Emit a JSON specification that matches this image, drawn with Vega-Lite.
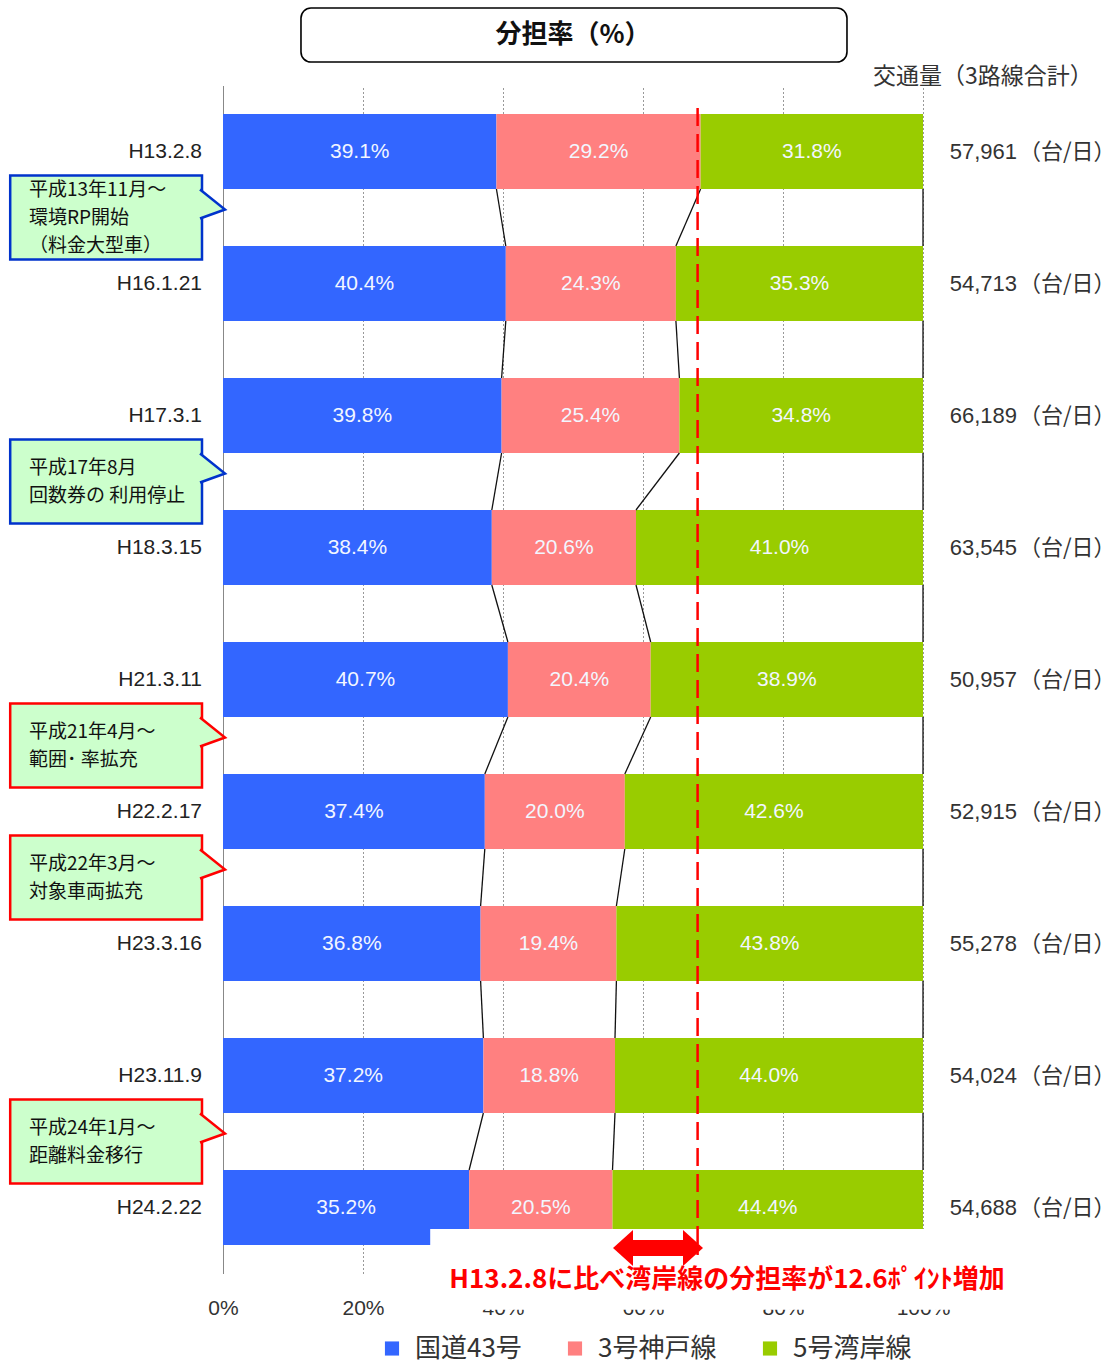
{
  "$schema": "https://vega.github.io/schema/vega-lite/v6.json",
  "autosize": {"type": "none"},
  "padding": {"left": 223, "top": 85.5, "right": 194, "bottom": 95.5},
  "width": 700,
  "height": 1188,
  "background": "white",
  "config": {
    "view": {"stroke": null},
    "font": "Noto Sans CJK JP",
    "axis": {"zindex": 0}
  },
  "datasets": {
    "shares": [
      {"row": 0, "road": "国道43号", "k": 1, "share": 0.391},
      {"row": 0, "road": "3号神戸線", "k": 2, "share": 0.292},
      {"row": 0, "road": "5号湾岸線", "k": 3, "share": 0.318},
      {"row": 1, "road": "国道43号", "k": 1, "share": 0.404},
      {"row": 1, "road": "3号神戸線", "k": 2, "share": 0.243},
      {"row": 1, "road": "5号湾岸線", "k": 3, "share": 0.353},
      {"row": 2, "road": "国道43号", "k": 1, "share": 0.398},
      {"row": 2, "road": "3号神戸線", "k": 2, "share": 0.254},
      {"row": 2, "road": "5号湾岸線", "k": 3, "share": 0.348},
      {"row": 3, "road": "国道43号", "k": 1, "share": 0.384},
      {"row": 3, "road": "3号神戸線", "k": 2, "share": 0.206},
      {"row": 3, "road": "5号湾岸線", "k": 3, "share": 0.410},
      {"row": 4, "road": "国道43号", "k": 1, "share": 0.407},
      {"row": 4, "road": "3号神戸線", "k": 2, "share": 0.204},
      {"row": 4, "road": "5号湾岸線", "k": 3, "share": 0.389},
      {"row": 5, "road": "国道43号", "k": 1, "share": 0.374},
      {"row": 5, "road": "3号神戸線", "k": 2, "share": 0.200},
      {"row": 5, "road": "5号湾岸線", "k": 3, "share": 0.426},
      {"row": 6, "road": "国道43号", "k": 1, "share": 0.368},
      {"row": 6, "road": "3号神戸線", "k": 2, "share": 0.194},
      {"row": 6, "road": "5号湾岸線", "k": 3, "share": 0.438},
      {"row": 7, "road": "国道43号", "k": 1, "share": 0.372},
      {"row": 7, "road": "3号神戸線", "k": 2, "share": 0.188},
      {"row": 7, "road": "5号湾岸線", "k": 3, "share": 0.440},
      {"row": 8, "road": "国道43号", "k": 1, "share": 0.352},
      {"row": 8, "road": "3号神戸線", "k": 2, "share": 0.205},
      {"row": 8, "road": "5号湾岸線", "k": 3, "share": 0.444}
    ],
    "volumes": [
      {"row": 0, "date": "H13.2.8", "volume": 57961},
      {"row": 1, "date": "H16.1.21", "volume": 54713},
      {"row": 2, "date": "H17.3.1", "volume": 66189},
      {"row": 3, "date": "H18.3.15", "volume": 63545},
      {"row": 4, "date": "H21.3.11", "volume": 50957},
      {"row": 5, "date": "H22.2.17", "volume": 52915},
      {"row": 6, "date": "H23.3.16", "volume": 55278},
      {"row": 7, "date": "H23.11.9", "volume": 54024},
      {"row": 8, "date": "H24.2.22", "volume": 54688}
    ],
    "callouts": [
      {"gap": 0.5, "type": "A", "lines": 3, "text": "平成13年11月～\n環境RP開始\n（料金大型車）"},
      {"gap": 2.5, "type": "A", "lines": 2, "text": "平成17年8月\n回数券の 利用停止"},
      {"gap": 4.5, "type": "B", "lines": 2, "text": "平成21年4月～\n範囲･ 率拡充"},
      {"gap": 5.5, "type": "B", "lines": 2, "text": "平成22年3月～\n対象車両拡充"},
      {"gap": 7.5, "type": "B", "lines": 2, "text": "平成24年1月～\n距離料金移行"}
    ]
  },
  "layer": [
    {
      "data": {"name": "shares"},
      "transform": [
        {"stack": "share", "groupby": ["row"], "sort": [{"field": "k", "order": "ascending"}], "offset": "normalize", "as": ["x0", "x1"]}
      ],
      "mark": {"type": "bar", "size": 75, "orient": "horizontal"},
      "encoding": {
        "x": {"field": "x0", "type": "quantitative", "scale": {"domain": [0, 1], "nice": false, "zero": false, "padding": 0},
          "axis": {"values": [0, 0.2, 0.4, 0.6, 0.8, 1], "format": ".0%", "title": null, "domain": false, "ticks": false,
            "labelFont": "Liberation Sans", "labelFontSize": 21, "labelColor": "#333", "labelPadding": 24, "labelFlush": false,
            "grid": true, "gridDash": [2, 2], "gridColor": "#999", "gridWidth": 1}},
        "x2": {"field": "x1"},
        "y": {"field": "row", "type": "quantitative", "scale": {"domain": [-0.5, 8.5], "reverse": true, "nice": false, "zero": false, "padding": 0},
          "axis": {"title": null, "labels": false, "ticks": false, "grid": false, "domain": true, "domainColor": "#888", "domainWidth": 1}},
        "color": {"field": "road", "type": "nominal",
          "scale": {"domain": ["国道43号", "3号神戸線", "5号湾岸線"], "range": ["#3366FF", "#FF8080", "#99CC00"]},
          "legend": {"title": null, "orient": "none", "legendX": 156, "legendY": 1250, "direction": "horizontal",
            "symbolType": "square", "symbolSize": 200, "symbolStrokeWidth": 0, "labelFontSize": 26,
            "labelFont": "Noto Sans CJK JP", "labelColor": "#333", "columnPadding": 40, "labelOffset": 10, "padding": 0}}
      }
    },
    {
      "data": {"name": "shares"},
      "transform": [
        {"stack": "share", "groupby": ["row"], "sort": [{"field": "k", "order": "ascending"}], "offset": "normalize", "as": ["x0", "x1"]},
        {"window": [{"op": "lead", "field": "x1", "as": "nx1"}, {"op": "lead", "field": "row", "as": "nrow"}],
          "groupby": ["road"], "sort": [{"field": "row", "order": "ascending"}]},
        {"filter": "datum.nrow != null"}
      ],
      "mark": {"type": "rule", "color": "#111", "strokeWidth": 1.3, "yOffset": 37.5, "y2Offset": -37.5},
      "encoding": {
        "x": {"field": "x1", "type": "quantitative"},
        "x2": {"field": "nx1"},
        "y": {"field": "row", "type": "quantitative"},
        "y2": {"field": "nrow"}
      }
    },
    {
      "data": {"name": "shares"},
      "transform": [
        {"stack": "share", "groupby": ["row"], "sort": [{"field": "k", "order": "ascending"}], "offset": "normalize", "as": ["x0", "x1"]},
        {"fold": ["x0", "x1"], "as": ["edge", "pos"]},
        {"aggregate": [{"op": "mean", "field": "pos", "as": "xm"}], "groupby": ["row", "road", "share"]}
      ],
      "mark": {"type": "text", "font": "Liberation Sans", "fontSize": 21, "color": "#F2F6FF", "baseline": "middle", "align": "center"},
      "encoding": {
        "x": {"field": "xm", "type": "quantitative"},
        "y": {"field": "row", "type": "quantitative"},
        "text": {"field": "share", "type": "quantitative", "format": ".1%"}
      }
    },
    {
      "data": {"values": [{}]},
      "mark": {"type": "rect", "fill": "white"},
      "encoding": {
        "x": {"datum": 0.296}, "x2": {"datum": 1.3},
        "y": {"datum": 8.163}, "y2": {"datum": 8.775}
      }
    },
    {
      "data": {"values": [{}]},
      "mark": {"type": "rule", "color": "#FF0000", "strokeWidth": 2.5, "strokeDash": [18, 8]},
      "encoding": {
        "x": {"datum": 0.678},
        "y": {"datum": -0.33}, "y2": {"datum": 8.36}
      }
    },
    {
      "data": {"values": [{}]},
      "mark": {"type": "rule", "color": "#FF0000", "strokeWidth": 16, "strokeCap": "butt"},
      "encoding": {
        "x": {"datum": 0.58}, "x2": {"datum": 0.664},
        "y": {"datum": 8.307}
      }
    },
    {
      "data": {"values": [{}]},
      "mark": {"type": "point", "filled": true, "fill": "#FF0000", "opacity": 1, "strokeWidth": 0, "size": 1296, "shape": "M-1,0L0.11,-1L0.11,1Z"},
      "encoding": {"x": {"datum": 0.5829}, "y": {"datum": 8.307}}
    },
    {
      "data": {"values": [{}]},
      "mark": {"type": "point", "filled": true, "fill": "#FF0000", "opacity": 1, "strokeWidth": 0, "size": 1296, "shape": "M1,0L-0.11,-1L-0.11,1Z"},
      "encoding": {"x": {"datum": 0.66}, "y": {"datum": 8.307}}
    },
    {
      "data": {"values": [{}]},
      "mark": {"type": "text", "font": "Noto Sans CJK JP", "fontSize": 26, "fontWeight": "bold", "color": "#FF0000", "align": "center", "baseline": "middle"},
      "encoding": {
        "x": {"datum": 0.72}, "y": {"datum": 8.553},
        "text": {"value": "H13.2.8に比べ湾岸線の分担率が12.6ﾎﾟｲﾝﾄ増加"}
      }
    },
    {
      "data": {"values": [{}]},
      "mark": {"type": "rect", "fill": "white", "stroke": "#000", "strokeWidth": 1.6, "cornerRadius": 10},
      "encoding": {
        "x": {"datum": 0.1114}, "x2": {"datum": 0.8914},
        "y": {"datum": -1.087}, "y2": {"datum": -0.678}
      }
    },
    {
      "data": {"values": [{}]},
      "mark": {"type": "text", "font": "Noto Sans CJK JP", "fontSize": 26, "fontWeight": "bold", "color": "#111", "align": "center", "baseline": "middle"},
      "encoding": {
        "x": {"datum": 0.5}, "y": {"datum": -0.883},
        "text": {"value": "分担率（%）"}
      }
    },
    {
      "data": {"values": [{}]},
      "mark": {"type": "text", "font": "Noto Sans CJK JP", "fontSize": 23, "color": "#333", "align": "left", "baseline": "middle"},
      "encoding": {
        "x": {"datum": 0.9286}, "y": {"datum": -0.564},
        "text": {"value": "交通量（3路線合計）"}
      }
    },
    {
      "data": {"name": "volumes"},
      "mark": {"type": "text", "font": "Liberation Sans", "fontSize": 21, "color": "#222", "align": "right", "baseline": "middle", "dx": -21},
      "encoding": {
        "x": {"datum": 0},
        "y": {"field": "row", "type": "quantitative"},
        "text": {"field": "date", "type": "nominal"}
      }
    },
    {
      "data": {"name": "volumes"},
      "mark": {"type": "text", "font": "Liberation Sans", "fontSize": 22, "color": "#333", "align": "right", "baseline": "middle", "dx": 94},
      "encoding": {
        "x": {"datum": 1},
        "y": {"field": "row", "type": "quantitative"},
        "text": {"field": "volume", "type": "quantitative", "format": ",d"}
      }
    },
    {
      "data": {"name": "volumes"},
      "mark": {"type": "text", "font": "Noto Sans CJK JP", "fontSize": 22, "color": "#333", "align": "left", "baseline": "middle", "dx": 96},
      "encoding": {
        "x": {"datum": 1},
        "y": {"field": "row", "type": "quantitative"},
        "text": {"value": "（台/日）"}
      }
    },
    {
      "data": {"name": "callouts"},
      "mark": {"type": "bar", "size": 84, "orient": "horizontal", "fill": "#CCFFCC", "strokeWidth": 2.5},
      "encoding": {
        "x": {"datum": -0.304}, "x2": {"datum": -0.03},
        "y": {"field": "gap", "type": "quantitative"},
        "stroke": {"field": "type", "type": "nominal", "scale": {"domain": ["A", "B"], "range": ["#0033CC", "#FF0000"]}, "legend": null}
      }
    },
    {
      "data": {"name": "callouts"},
      "mark": {"type": "point", "filled": false, "fill": "#CCFFCC", "fillOpacity": 1, "opacity": 1, "strokeWidth": 2.5, "size": 900,
        "shape": "M-0.8,-0.933L0.867,0.4L-0.8,1", "xOffset": 10, "yOffset": -14},
      "encoding": {
        "x": {"datum": -0.03},
        "y": {"field": "gap", "type": "quantitative"},
        "stroke": {"field": "type", "type": "nominal", "legend": null}
      }
    },
    {
      "data": {"name": "callouts"},
      "transform": [{"filter": "datum.lines == 3"}],
      "mark": {"type": "text", "font": "Noto Sans CJK JP", "fontSize": 19, "color": "#111", "align": "left", "baseline": "middle", "lineBreak": "\n", "lineHeight": 28, "yOffset": -28},
      "encoding": {
        "x": {"datum": -0.2772},
        "y": {"field": "gap", "type": "quantitative"},
        "text": {"field": "text", "type": "nominal"}
      }
    },
    {
      "data": {"name": "callouts"},
      "transform": [{"filter": "datum.lines == 2"}],
      "mark": {"type": "text", "font": "Noto Sans CJK JP", "fontSize": 19, "color": "#111", "align": "left", "baseline": "middle", "lineBreak": "\n", "lineHeight": 28, "yOffset": -14},
      "encoding": {
        "x": {"datum": -0.2772},
        "y": {"field": "gap", "type": "quantitative"},
        "text": {"field": "text", "type": "nominal"}
      }
    }
  ]
}
